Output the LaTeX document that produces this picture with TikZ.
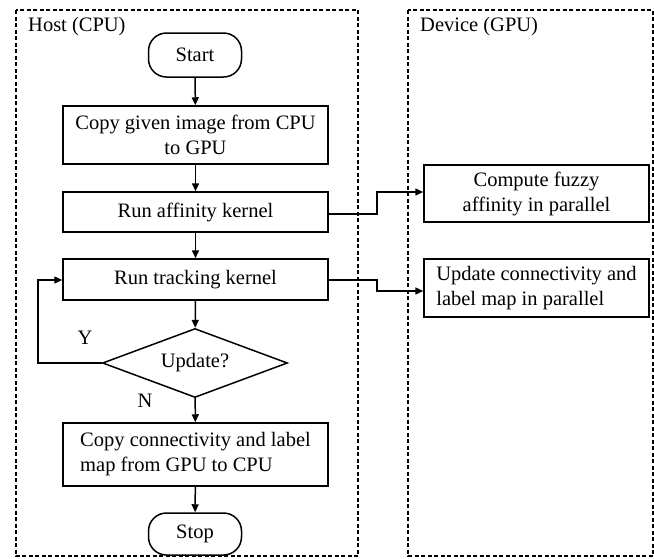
\documentclass[tikz,border=0pt]{standalone}
\usepackage{fontspec}
\setmainfont{Liberation Serif}
\usetikzlibrary{shapes.geometric,arrows.meta}
\begin{document}
\begin{tikzpicture}[x=1pt,y=-1pt,
  font=\fontsize{20.5}{25}\selectfont,
  region/.style={draw, line width=1.3pt, dash pattern=on 4pt off 2.5pt},
  procbox/.style={draw, line width=1.5pt, minimum width=265pt, inner sep=2pt},
  devbox/.style={draw, line width=1.5pt, minimum width=225pt, inner sep=2pt},
  term/.style={draw, line width=1.5pt, rounded corners=18pt, minimum width=93pt},
  decide/.style={draw, diamond, aspect=2.7, line width=1.5pt, inner sep=0pt, minimum width=185pt, minimum height=69pt},
  flow/.style={line width=1.5pt, -{Triangle[length=8pt,width=7pt]}},
  lbl/.style={inner sep=0pt}
]
\useasboundingbox (0,0) rectangle (654,558);
\draw[region] (16,10) rectangle (358,556);
\draw[region] (408,10) rectangle (653,556);
\node[lbl, anchor=west] (host) at (28,27) {Host (CPU)};
\node[lbl, anchor=west] (dev) at (420,27) {Device (GPU)};

\node[term, minimum height=44pt] (start) at (195,55) {Start};
\node[procbox, minimum height=58pt, align=center] (copy1) at (195.5,135) {Copy given image from CPU\\to GPU};
\node[procbox, minimum height=40pt] (aff) at (195.5,212) {Run affinity kernel};
\node[procbox, minimum height=41pt] (track) at (195.5,279.5) {Run tracking kernel};
\node[decide] (upd) at (195,363) {Update?};
\node[procbox, minimum height=63pt, align=left] (copy2) at (195.5,454.5) {Copy connectivity and label\\map from GPU to CPU};
\node[term, minimum height=42pt] (stop) at (195,534) {Stop};

\node[devbox, minimum height=57pt, align=center] (fuzzy) at (536.5,193.5) {Compute fuzzy\\affinity in parallel};
\node[devbox, minimum height=58pt, align=left] (conn) at (536.5,288) {Update connectivity and\\label map in parallel};

\node[lbl] (ylab) at (85,338) {Y};
\node[lbl] (nlab) at (145,401) {N};

\coordinate (loopA) at (38,363);
\coordinate (loopB) at (38,280);
\coordinate (a1) at (377,214);
\coordinate (a2) at (377,192);
\coordinate (t1) at (377,280);
\coordinate (t2) at (377,291);

\draw[flow] (start) -- (copy1);
\draw[flow] (copy1) -- (aff);
\draw[flow] (aff) -- (track);
\draw[flow] (track) -- (upd);
\draw[flow] (upd) -- (copy2);
\draw[flow] (copy2) -- (stop);
\draw[flow] (upd.west) -- (loopA) -- (loopB) -- (track.west |- loopB);
\draw[flow] (aff.east |- a1) -- (a1) -- (a2) -- (fuzzy.west |- a2);
\draw[flow] (track.east |- t1) -- (t1) -- (t2) -- (conn.west |- t2);
\end{tikzpicture}
\end{document}
